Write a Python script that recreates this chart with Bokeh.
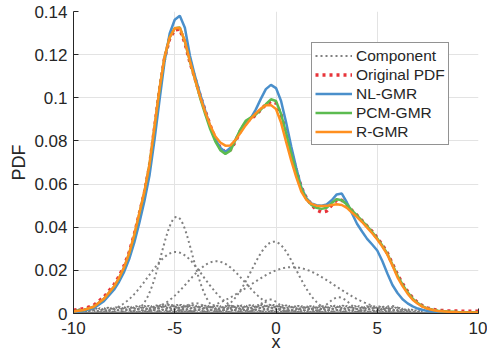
import numpy as np
from bokeh.plotting import figure
from bokeh.models import (Legend, LegendItem, FixedTicker, CustomJSTickFormatter, Range1d)
from bokeh.embed import file_html
from bokeh.resources import INLINE

# ---------------- data ----------------
x_pts = [-10, -9.5, -9, -8.5, -8,
         -7.75, -7.5, -7.25, -7, -6.75, -6.5, -6.25, -6, -5.75, -5.5, -5.25, -5,
         -4.75, -4.5, -4.25, -4, -3.75, -3.5, -3.25, -3, -2.75, -2.5, -2.25, -2,
         -1.75, -1.5, -1.25, -1, -0.75, -0.5, -0.25, 0, 0.25, 0.5, 0.75, 1,
         1.25, 1.5, 1.75, 2, 2.25, 2.5, 2.75, 3, 3.25, 3.5, 3.75, 4,
         4.25, 4.5, 4.75, 5, 5.25, 5.5, 5.75, 6, 6.25, 6.5, 6.75, 7,
         7.25, 7.5, 7.75, 8, 8.5, 9, 9.5, 10]

original_pdf = [0.0015, 0.0022, 0.0038, 0.0076, 0.0133,
                0.0172, 0.0221, 0.0284, 0.0365, 0.0462, 0.0558, 0.0682, 0.0858,
                0.1035, 0.1185, 0.1275, 0.1315, 0.1318, 0.1255, 0.1165, 0.109,
                0.1012, 0.094, 0.0872, 0.0812, 0.0768, 0.0748, 0.0758, 0.0798,
                0.0848, 0.0885, 0.0902, 0.092, 0.0945, 0.0968, 0.0983, 0.0976,
                0.092, 0.0838, 0.0748, 0.0664, 0.0585, 0.0535, 0.0505, 0.048,
                0.047, 0.0475, 0.0502, 0.0527, 0.0525, 0.0505, 0.0478, 0.0455,
                0.043, 0.0405, 0.038, 0.035, 0.0318, 0.028, 0.023, 0.018,
                0.0138, 0.0102, 0.0072, 0.005, 0.0035, 0.0025, 0.0019, 0.0015,
                0.0012, 0.0011, 0.001, 0.001]

nl_gmr = [0.0006, 0.0012, 0.0025, 0.0057, 0.011,
          0.0147, 0.0193, 0.0252, 0.0328, 0.042, 0.052, 0.0638, 0.0805,
          0.099, 0.117, 0.1298, 0.1362, 0.138, 0.1325, 0.1195, 0.11,
          0.1018, 0.0942, 0.0868, 0.0808, 0.0768, 0.0749, 0.0768, 0.0805,
          0.085, 0.0882, 0.0905, 0.0945, 0.0995, 0.104, 0.106, 0.1045,
          0.0985, 0.0885, 0.0775, 0.0675, 0.0585, 0.0535, 0.051, 0.0502,
          0.05, 0.0505, 0.0525, 0.0552, 0.0556, 0.0515, 0.0465, 0.0416,
          0.038, 0.0346, 0.032, 0.0292, 0.0243, 0.0185, 0.0132, 0.0095,
          0.0066, 0.0047, 0.0033, 0.0023, 0.0016, 0.0012, 0.0009, 0.0007,
          0.0005, 0.0004, 0.0003, 0.0003]

pcm_gmr = [0.001, 0.0016, 0.0031, 0.0068, 0.0124,
           0.0163, 0.0213, 0.0278, 0.036, 0.0462, 0.0562, 0.0688, 0.0862,
           0.1042, 0.119, 0.128, 0.1322, 0.1326, 0.126, 0.1168, 0.1085,
           0.1, 0.0925, 0.0855, 0.0798, 0.0757, 0.074, 0.0755, 0.0805,
           0.0855, 0.0893, 0.0908, 0.0922, 0.0945, 0.097, 0.0993, 0.0985,
           0.0925, 0.0835, 0.0742, 0.0655, 0.058, 0.053, 0.0503, 0.049,
           0.0485, 0.049, 0.0512, 0.053, 0.0525, 0.0505, 0.0478, 0.0455,
           0.043, 0.0405, 0.0378, 0.0348, 0.0315, 0.0277, 0.0227, 0.0176,
           0.0134, 0.0098, 0.0069, 0.0048, 0.0033, 0.0023, 0.0017, 0.0013,
           0.0009, 0.0007, 0.0006, 0.0006]

r_gmr = [0.0009, 0.0016, 0.0031, 0.0068, 0.0125,
         0.0165, 0.0215, 0.028, 0.0365, 0.0465, 0.0565, 0.069, 0.0865,
         0.1045, 0.119, 0.128, 0.1322, 0.1325, 0.1262, 0.117, 0.1085,
         0.1005, 0.0935, 0.0872, 0.0822, 0.0793, 0.0778, 0.0779, 0.0805,
         0.0838, 0.0872, 0.0902, 0.0928, 0.095, 0.0965, 0.0966, 0.0948,
         0.0885, 0.0795, 0.071, 0.0632, 0.0565, 0.0527, 0.0508, 0.05,
         0.0498, 0.0499, 0.0503, 0.0506, 0.0503, 0.049, 0.0468, 0.0447,
         0.0424, 0.0398, 0.0372, 0.0343, 0.031, 0.0273, 0.0222, 0.0168,
         0.0127, 0.0092, 0.0064, 0.0045, 0.0031, 0.0022, 0.0016, 0.0012,
         0.0008, 0.0006, 0.0005, 0.0005]

# Gaussian components (mean, sigma, peak height)
comp_means = [-4.9, -4.95, -2.95, -0.1, 0.8, 3.1,
              -5.4, -4.0, -2.0, -0.3, 1.5, 4.6, 5.7]
comp_sigmas = [0.77, 1.35, 1.4, 1.1, 2.1, 0.55,
               0.5, 0.55, 0.45, 0.5, 0.4, 0.4, 0.45]
comp_peaks = [0.0448, 0.0285, 0.0242, 0.0333, 0.0215, 0.0075,
              0.0045, 0.0048, 0.0035, 0.0065, 0.003, 0.003, 0.0035]

# many tiny, narrow components forming the band near zero
tiny_means = [-9.9, -9.7, -9.5, -9.3, -9.1, -8.9, -8.7, -8.5, -8.3, -8.1,
              -7.9, -7.7, -7.5, -7.3, -7.1, -6.9, -6.7, -6.5, -6.3, -6.1,
              -5.9, -5.7, -5.5, -5.3, -5.1, -4.9, -4.7, -4.5, -4.3, -4.1,
              -3.9, -3.7, -3.5, -3.3, -3.1, -2.9, -2.7, -2.5, -2.3, -2.1,
              -1.9, -1.7, -1.5, -1.3, -1.1, -0.9, -0.7, -0.5, -0.3, -0.1,
              0.1, 0.3, 0.5, 0.7, 0.9, 1.1, 1.3, 1.5, 1.7, 1.9,
              2.1, 2.3, 2.5, 2.7, 2.9, 3.1, 3.3, 3.5, 3.7, 3.9,
              4.1, 4.3, 4.5, 4.7, 4.9, 5.1, 5.3, 5.5, 5.7, 5.9,
              6.1, 6.3, 6.5, 6.7, 6.9, 7.1]
tiny_peaks = [0.0018, 0.0019, 0.002, 0.0021, 0.0022, 0.0023, 0.0024, 0.0025, 0.0026, 0.0027,
              0.0028, 0.0029, 0.003, 0.0031, 0.0032, 0.0033, 0.0034, 0.0035, 0.0035, 0.0036,
              0.0037, 0.0038, 0.0038, 0.0039, 0.004, 0.004, 0.004, 0.0039, 0.0038, 0.0038,
              0.0037, 0.0037, 0.0036, 0.0036, 0.0036, 0.0035, 0.0035, 0.0035, 0.0036, 0.0036,
              0.0036, 0.0037, 0.0037, 0.0038, 0.0038, 0.0039, 0.004, 0.004, 0.004, 0.004,
              0.0039, 0.0038, 0.0037, 0.0036, 0.0035, 0.0035, 0.0034, 0.0034, 0.0034, 0.0034,
              0.0034, 0.0034, 0.0034, 0.0035, 0.0036, 0.0036, 0.0036, 0.0035, 0.0034, 0.0034,
              0.0034, 0.0033, 0.0033, 0.0033, 0.0032, 0.0032, 0.0031, 0.003, 0.0029, 0.0027,
              0.0025, 0.0023, 0.002, 0.0017, 0.0014, 0.0011]
tiny_sigma = 0.09

x_ticks = [-10, -5, 0, 5, 10]
y_ticks = [0, 0.02, 0.04, 0.06, 0.08, 0.1, 0.12, 0.14]

# ---------------- figure ----------------
FONT = "Liberation Sans"
TXT = "#262626"

p = figure(width=487, height=355, x_range=Range1d(-10, 10), y_range=Range1d(0, 0.14),
           output_backend="svg", toolbar_location=None,
           min_border_left=73, min_border_right=9, min_border_top=11, min_border_bottom=42)
p.background_fill_color = "white"
p.border_fill_color = "white"
p.outline_line_color = None

xx = np.linspace(-10, 10, 1001)
comp_color = "#808080"
comp_renderers = []
for m, h in zip(tiny_means, tiny_peaks):
    yy = h * np.exp(-0.5 * ((xx - m) / tiny_sigma) ** 2)
    r = p.line(xx, yy, line_color="#7A7A7A", line_width=2.2, line_dash="2 1")
    comp_renderers.append(r)
for m, s, h in zip(comp_means, comp_sigmas, comp_peaks):
    yy = h * np.exp(-0.5 * ((xx - m) / s) ** 2)
    r = p.line(xx, yy, line_color=comp_color, line_width=2, line_dash="2 3")
    comp_renderers.append(r)

r_orig = p.line(x_pts, original_pdf, line_color="#E8343A", line_width=3.5, line_dash="3 4")
r_nl = p.line(x_pts, nl_gmr, line_color="#4A8FCB", line_width=2.5)
r_pcm = p.line(x_pts, pcm_gmr, line_color="#5CBB50", line_width=2.5)
r_r = p.line(x_pts, r_gmr, line_color="#FF8F1F", line_width=2.5)

fmt = CustomJSTickFormatter(code="""
var s = tick.toFixed(2);
s = s.replace(/0+$/, '').replace(/\\.$/, '');
if (s === '-0') { s = '0'; }
return s;
""")

for ax, ticks in ((p.xaxis, x_ticks), (p.yaxis, y_ticks)):
    ax.ticker = FixedTicker(ticks=ticks)
    ax.formatter = fmt
    ax.major_tick_in = 5
    ax.major_tick_out = 0
    ax.minor_tick_line_color = None
    ax.axis_line_color = TXT
    ax.major_tick_line_color = TXT
    ax.major_label_text_font = FONT
    ax.major_label_text_font_size = "17px"
    ax.major_label_text_color = TXT
    ax.axis_label_text_font = FONT
    ax.axis_label_text_font_size = "18px"
    ax.axis_label_text_font_style = "normal"
    ax.axis_label_text_color = TXT

p.xaxis.axis_label = "x"
p.yaxis.axis_label = "PDF"
p.xaxis.major_label_standoff = 8
p.xaxis.axis_label_standoff = -5
p.yaxis.major_label_standoff = 6
p.yaxis.axis_label_standoff = 2

p.xgrid.ticker = FixedTicker(ticks=x_ticks)
p.ygrid.ticker = FixedTicker(ticks=y_ticks)
p.grid.grid_line_color = "#E3E3E3"
p.grid.grid_line_width = 1

legend = Legend(items=[
    LegendItem(label="Component", renderers=[comp_renderers[-1]]),
    LegendItem(label="Original PDF", renderers=[r_orig]),
    LegendItem(label="NL-GMR", renderers=[r_nl]),
    LegendItem(label="PCM-GMR", renderers=[r_pcm]),
    LegendItem(label="R-GMR", renderers=[r_r]),
], location=(238, 168))
legend.label_text_font = FONT
legend.label_text_font_size = "15.5px"
legend.label_text_color = TXT
legend.glyph_width = 37
legend.glyph_height = 19
legend.label_height = 19
legend.label_standoff = 4
legend.spacing = 0
legend.padding = 3
legend.margin = 0
legend.border_line_color = "#262626"
legend.border_line_width = 1
legend.background_fill_color = "white"
legend.background_fill_alpha = 1
p.add_layout(legend)

open("out.html", "w").write(file_html(p, INLINE))
